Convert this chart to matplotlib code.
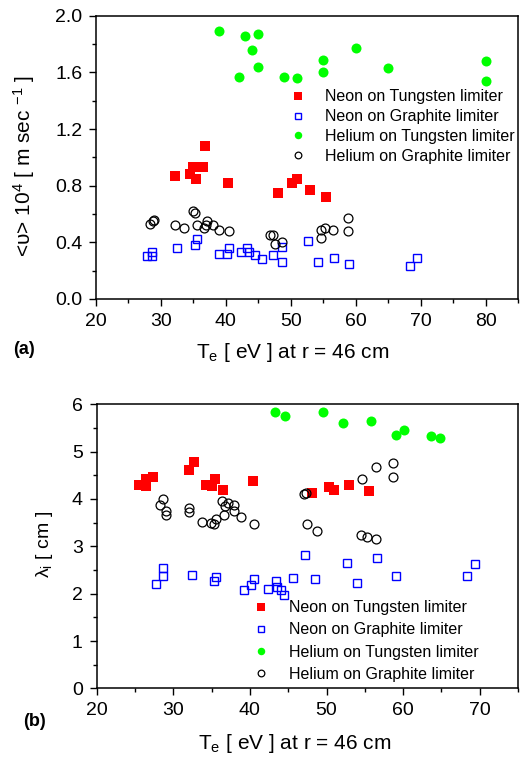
import matplotlib
matplotlib.use('Agg')
import matplotlib.pyplot as plt
from matplotlib.ticker import MultipleLocator, FormatStrFormatter

plt.rcParams['font.family'] = ['Liberation Sans', 'DejaVu Sans']
plt.rcParams['mathtext.fontset'] = 'custom'
plt.rcParams['mathtext.rm'] = 'Liberation Sans'
plt.rcParams['mathtext.it'] = 'Liberation Sans:italic'
plt.rcParams['mathtext.bf'] = 'Liberation Sans:bold'

# ---------------- panel (a): mean velocity vs Te ----------------
a_ne_w_te = [32.1, 34.4, 35.0, 36.5, 36.8, 35.4, 40.4, 48.0, 50.2, 51.0, 52.9, 55.5]
a_ne_w_v = [0.87, 0.88, 0.93, 0.93, 1.08, 0.85, 0.82, 0.75, 0.82, 0.85, 0.77, 0.72]

a_ne_c_te = [27.9, 28.6, 28.6, 32.4, 35.3, 35.6, 39.0, 40.1, 40.5, 42.4, 43.3, 43.6,
             44.5, 45.6, 47.3, 48.6, 48.6, 52.6, 54.2, 56.6, 59.0, 68.3, 69.4]
a_ne_c_v = [0.30, 0.33, 0.30, 0.36, 0.38, 0.42, 0.32, 0.32, 0.36, 0.33, 0.36, 0.33,
            0.31, 0.28, 0.31, 0.26, 0.37, 0.41, 0.26, 0.29, 0.25, 0.23, 0.29]

a_he_w_te = [39.0, 42.9, 45.0, 44.0, 45.0, 42.0, 49.0, 51.0, 55.0, 55.0, 60.0, 65.0, 80.0, 80.0]
a_he_w_v = [1.89, 1.86, 1.87, 1.76, 1.64, 1.57, 1.57, 1.56, 1.69, 1.60, 1.77, 1.63, 1.68, 1.54]

a_he_c_te = [28.3, 28.7, 28.9, 32.1, 33.6, 35.0, 35.3, 35.6, 36.7, 36.9, 37.1, 38.0,
             38.9, 40.5, 46.8, 47.3, 47.5, 48.7, 54.6, 55.3, 56.5, 54.6, 58.8, 58.8]
a_he_c_v = [0.53, 0.55, 0.56, 0.52, 0.50, 0.62, 0.61, 0.52, 0.50, 0.52, 0.55, 0.52,
            0.49, 0.48, 0.45, 0.45, 0.39, 0.40, 0.49, 0.50, 0.49, 0.43, 0.57, 0.48]

# ---------------- panel (b): decay length vs Te ----------------
b_ne_w_te = [25.5, 26.4, 26.5, 27.4, 32.0, 32.7, 34.3, 35.0, 35.5, 36.5, 40.4,
             48.1, 50.3, 51.0, 52.9, 55.5]
b_ne_w_l = [4.29, 4.28, 4.42, 4.46, 4.61, 4.79, 4.29, 4.27, 4.42, 4.19, 4.38,
            4.12, 4.25, 4.18, 4.30, 4.16]

b_ne_c_te = [28.6, 28.6, 27.8, 32.4, 35.3, 35.6, 39.2, 40.2, 40.5, 42.4, 43.4, 43.5,
             44.0, 44.5, 45.6, 47.2, 48.5, 52.7, 54.0, 56.6, 59.1, 68.3, 69.4]
b_ne_c_l = [2.55, 2.38, 2.21, 2.39, 2.27, 2.35, 2.08, 2.18, 2.31, 2.10, 2.27, 2.15,
            2.08, 1.97, 2.34, 2.81, 2.30, 2.65, 2.22, 2.75, 2.38, 2.38, 2.62]

b_he_w_te = [43.3, 44.6, 49.5, 52.2, 55.8, 59.1, 60.1, 63.7, 64.8]
b_he_w_l = [5.84, 5.76, 5.84, 5.61, 5.64, 5.35, 5.46, 5.34, 5.28]

b_he_c_te = [28.7, 28.3, 29.0, 29.0, 32.1, 32.1, 33.7, 34.9, 35.3, 35.6, 36.3, 36.8,
             37.1, 36.6, 37.9, 37.9, 38.9, 40.5, 47.0, 47.3, 47.5, 48.7, 54.6, 56.5,
             58.7, 58.7, 54.5, 55.3, 56.5]
b_he_c_l = [3.99, 3.87, 3.74, 3.66, 3.80, 3.73, 3.51, 3.49, 3.47, 3.58, 3.95, 3.85,
            3.91, 3.67, 3.87, 3.75, 3.62, 3.48, 4.11, 4.13, 3.47, 3.32, 4.42, 4.68,
            4.77, 4.47, 3.23, 3.19, 3.16]

labels = ['Neon on Tungsten limiter', 'Neon on Graphite limiter',
          'Helium on Tungsten limiter', 'Helium on Graphite limiter']

RED, BLUE, GREEN = '#ff0000', '#0000ff', '#00ff00'

fig = plt.figure(figsize=(5.25, 7.59), dpi=100)
ax1 = fig.add_axes([0.1829, 0.6061, 0.8038, 0.3732])
ax2 = fig.add_axes([0.1842, 0.0931, 0.8025, 0.3742])


def draw_series(ax, sets):
    styles = [dict(marker='s', ms=6.8, mfc=RED, mec=RED, mew=0),
              dict(marker='s', ms=5.6, mfc='none', mec=BLUE, mew=1.0),
              dict(marker='o', ms=7.2, mfc=GREEN, mec=GREEN, mew=0),
              dict(marker='o', ms=6.4, mfc='none', mec='black', mew=0.9)]
    for (x, y), st, lab in zip(sets, styles, labels):
        ax.plot(x, y, linestyle='none', label=lab, **st)


def style_axes(ax):
    for s in ax.spines.values():
        s.set_linewidth(1.1)
    ax.tick_params(which='both', direction='out', top=False, right=False,
                   width=1.0, labelsize=14, pad=5)
    ax.tick_params(which='major', length=5)
    ax.tick_params(which='minor', length=3)


draw_series(ax1, [(a_ne_w_te, a_ne_w_v), (a_ne_c_te, a_ne_c_v),
                  (a_he_w_te, a_he_w_v), (a_he_c_te, a_he_c_v)])
ax1.set_xlim(20, 85)
ax1.set_ylim(0, 2.0)
ax1.xaxis.set_major_locator(MultipleLocator(10))
ax1.xaxis.set_minor_locator(MultipleLocator(5))
ax1.yaxis.set_major_locator(MultipleLocator(0.4))
ax1.yaxis.set_minor_locator(MultipleLocator(0.2))
ax1.yaxis.set_major_formatter(FormatStrFormatter('%.1f'))
style_axes(ax1)
ax1.set_xlabel(r'T$_{\rm e}$ [ eV ] at r = 46 cm', fontsize=15)
ax1.xaxis.set_label_coords(0.467, -0.148)
ax1.set_ylabel(r'<υ> 10$^{4}$ [ m sec $^{-1}$ ]', fontsize=15)
ax1.yaxis.set_label_coords(-0.14, 0.47)
ax1.legend(loc='upper left', bbox_to_anchor=(0.46, 0.74), frameon=False,
           fontsize=11.5, handlelength=1.0, handletextpad=1.2, borderpad=0,
           borderaxespad=0, labelspacing=0.3, markerscale=0.75)

draw_series(ax2, [(b_ne_w_te, b_ne_w_l), (b_ne_c_te, b_ne_c_l),
                  (b_he_w_te, b_he_w_l), (b_he_c_te, b_he_c_l)])
ax2.set_xlim(20, 75)
ax2.set_ylim(0, 6)
ax2.xaxis.set_major_locator(MultipleLocator(10))
ax2.xaxis.set_minor_locator(MultipleLocator(5))
ax2.yaxis.set_major_locator(MultipleLocator(1))
ax2.yaxis.set_minor_locator(MultipleLocator(0.5))
style_axes(ax2)
ax2.set_xlabel(r'T$_{\rm e}$ [ eV ] at r = 46 cm', fontsize=15)
ax2.xaxis.set_label_coords(0.471, -0.152)
ax2.set_ylabel(r'λ$_{\rm i}$ [ cm ]', fontsize=14)
ax2.yaxis.set_label_coords(-0.099, 0.505)
ax2.legend(loc='upper left', bbox_to_anchor=(0.37, 0.31), frameon=False,
           fontsize=11.5, handlelength=1.0, handletextpad=1.3, borderpad=0,
           borderaxespad=0, labelspacing=0.45, markerscale=0.75)

fig.text(13 / 525, 1 - 350 / 759, '(a)', fontsize=13, fontweight='bold',
         ha='left', va='center')
fig.text(23 / 525, 1 - 722 / 759, '(b)', fontsize=13, fontweight='bold',
         ha='left', va='center')

fig.savefig('out.png', dpi=100)
